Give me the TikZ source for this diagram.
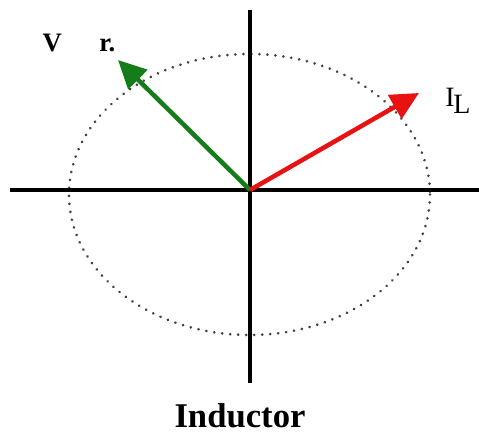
\documentclass[tikz,border=0pt]{standalone}
\usepackage{fontspec}
\setmainfont{Liberation Serif}
\usetikzlibrary{arrows.meta}
\definecolor{vgreen}{RGB}{20,125,25}
\definecolor{ired}{RGB}{232,18,18}
\begin{document}
\begin{tikzpicture}[x=0.75pt,y=-0.75pt,
  axis/.style={line width=2.4pt,black},
  phasor/.style={line width=3.4pt,-{Triangle[length=21pt,width=20pt]}},
  lbl/.style={inner sep=0pt,font=\bfseries}]
\useasboundingbox (0,0) rectangle (479,434);
\coordinate (O) at (250,190);
\coordinate (xl) at (10,190);
\coordinate (xr) at (479,190);
\coordinate (yt) at (250,10);
\coordinate (yb) at (250,383);
\coordinate (vt) at (118,60);
\coordinate (it) at (419,93);
\draw[black!75,line width=2.2pt,line cap=round,dash pattern=on 0.01pt off 6pt]
  (249.5,194.5) ellipse [x radius=180.5,y radius=140.5];
\draw[axis] (xl) -- (xr);
\draw[axis] (yt) -- (yb);
\draw[phasor,vgreen] (O) -- (vt);
\draw[phasor,ired] (O) -- (it);
\node[lbl,font=\bfseries\fontsize{20}{20}\selectfont] (vlabel) at (79,43) {V\hspace{28pt}r.};
\node[lbl,font=\fontsize{21}{21}\selectfont] (ilabel) at (458,101) {I\kern-1pt\raisebox{-5pt}{L}};
\node[lbl,font=\bfseries\fontsize{26}{26}\selectfont] (cap) at (240,416) {Inductor};
\end{tikzpicture}
\end{document}
